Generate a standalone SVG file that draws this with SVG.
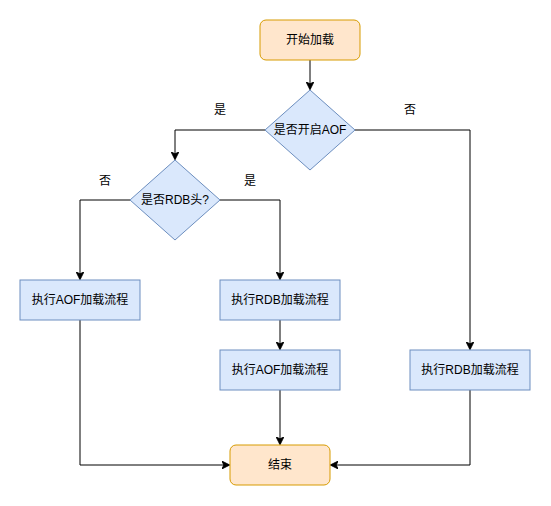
<svg xmlns="http://www.w3.org/2000/svg" width="551" height="506" viewBox="0 0 551 506">
<style>
text{font-family:"Liberation Sans","Noto Sans CJK SC",sans-serif;font-size:12px;fill:#000;text-anchor:middle;dominant-baseline:central}
.o{fill:#ffe6cc;stroke:#d79b00;stroke-width:1}
.b{fill:#dae8fc;stroke:#6c8ebf;stroke-width:1}
.e{fill:none;stroke:#000;stroke-width:1;marker-end:url(#a)}
</style>
<defs>
<marker id="a" viewBox="0 0 10 10" refX="9" refY="5" markerWidth="8" markerHeight="8" markerUnits="userSpaceOnUse" orient="auto">
<path d="M0,0 L10,5 L0,10 L2.5,5 Z" fill="#000" stroke="#000" stroke-width="1"/>
</marker>
</defs>
<rect width="551" height="506" fill="#fff"/>
<g id="edges">
<path class="e" d="M310,60 V89"/>
<path class="e" d="M265,130 H175 V159"/>
<path class="e" d="M355,130 H470 V349"/>
<path class="e" d="M130,200 H80 V279"/>
<path class="e" d="M220,200 H280 V279"/>
<path class="e" d="M280,320 V349"/>
<path class="e" d="M280,390 V444"/>
<path class="e" d="M80,320 V465 H229"/>
<path class="e" d="M470,390 V465 H331"/>
<text x="220" y="110">是</text>
<text x="410" y="110">否</text>
<text x="105" y="181">否</text>
<text x="250" y="181">是</text>
</g>
<g id="start"><rect class="o" x="260" y="20" width="100" height="40" rx="6"/><text x="310" y="40">开始加载</text></g>
<g id="d1"><path class="b" d="M310,90 L355,130 L310,170 L265,130 Z"/><text x="310" y="130">是否开启AOF</text></g>
<g id="d2"><path class="b" d="M175,160 L220,200 L175,240 L130,200 Z"/><text x="175" y="200">是否RDB头?</text></g>
<g id="aof1"><rect class="b" x="20" y="280" width="120" height="40"/><text x="80" y="300">执行AOF加载流程</text></g>
<g id="rdb1"><rect class="b" x="220" y="280" width="120" height="40"/><text x="280" y="300">执行RDB加载流程</text></g>
<g id="aof2"><rect class="b" x="220" y="350" width="120" height="40"/><text x="280" y="370">执行AOF加载流程</text></g>
<g id="rdb2"><rect class="b" x="410" y="350" width="120" height="40"/><text x="470" y="370">执行RDB加载流程</text></g>
<g id="end"><rect class="o" x="230" y="445" width="100" height="40" rx="6"/><text x="280" y="465">结束</text></g>
</svg>
